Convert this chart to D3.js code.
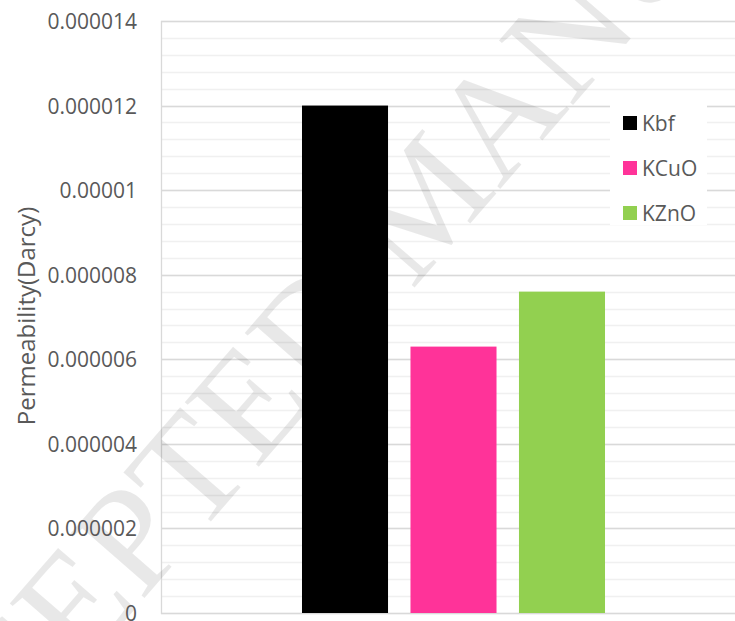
<!DOCTYPE html>
<html>
<head>
<meta charset="utf-8">
<script src="https://cdn.jsdelivr.net/npm/d3@7"></script>
<style>
  html, body { margin: 0; padding: 0; background: #fff; }
  svg { display: block; }
</style>
</head>
<body>
<svg id="chart" width="735" height="621"></svg>
<script>
// ---- data ----
const categories = [""];
const seriesNames = ["Kbf", "KCuO", "KZnO"];
const seriesValues = [0.000012, 0.0000063, 0.0000076];
const seriesColors = ["#000000", "#ff3399", "#92d050"];
const yTickValues = [0, 0.000002, 0.000004, 0.000006, 0.000008, 0.00001, 0.000012, 0.000014];
const yTickLabels = ["0", "0.000002", "0.000004", "0.000006", "0.000008", "0.00001", "0.000012", "0.000014"];
const yAxisTitle = "Permeability(Darcy)";
const watermark = "ACCEPTED MANUSCRIPT";

// ---- layout ----
const W = 735, H = 621;
const plot = { left: 161, right: 746, top: 21, bottom: 613 };
const font = "'Open Sans', sans-serif";
const textColor = "#595959";

const svg = d3.select("#chart");

const y = d3.scaleLinear().domain([0, 0.000014]).range([plot.bottom, plot.top]);
const x0 = d3.scaleBand().domain(categories).range([plot.left, plot.right])
  .paddingInner(0).paddingOuter(0.4653);
const x1 = d3.scaleBand().domain(seriesNames).range([0, x0.bandwidth()])
  .paddingInner(0.207).paddingOuter(0);

// minor gridlines
const minorVals = d3.range(36).map(i => i * 0.000014 / 35);
svg.append("g").selectAll("line").data(minorVals).join("line")
  .attr("x1", plot.left).attr("x2", plot.right)
  .attr("y1", d => Math.round(y(d)) + 0.5).attr("y2", d => Math.round(y(d)) + 0.5)
  .attr("stroke", "#f0f0f0").attr("stroke-width", 1.3);

// major gridlines
svg.append("g").selectAll("line").data(yTickValues).join("line")
  .attr("x1", plot.left).attr("x2", plot.right)
  .attr("y1", d => Math.round(y(d)) + 0.5).attr("y2", d => Math.round(y(d)) + 0.5)
  .attr("stroke", "#d9d9d9").attr("stroke-width", 1.3);

// left axis line
svg.append("line")
  .attr("x1", plot.left + 0.5).attr("x2", plot.left + 0.5)
  .attr("y1", plot.top).attr("y2", plot.bottom + 1)
  .attr("stroke", "#d9d9d9").attr("stroke-width", 1.3);

// watermark
svg.append("text")
  .attr("transform", "translate(425,200) rotate(-49)")
  .attr("text-anchor", "middle")
  .attr("dy", "0.33em")
  .attr("font-family", "'Liberation Serif', serif")
  .attr("font-size", 150)
  .attr("fill", "#000").attr("fill-opacity", 0.09)
  .text(watermark);

// bars
const g = svg.append("g").selectAll("g").data(categories).join("g")
  .attr("transform", d => `translate(${x0(d)},0)`);
g.selectAll("rect").data(seriesNames.map((s, i) => ({ s, v: seriesValues[i], c: seriesColors[i] })))
  .join("rect")
  .attr("x", d => x1(d.s))
  .attr("width", x1.bandwidth())
  .attr("y", d => y(d.v))
  .attr("height", d => y(0) - y(d.v))
  .attr("fill", d => d.c);

// y axis
const yAxis = d3.axisLeft(y)
  .tickValues(yTickValues)
  .tickFormat((d, i) => yTickLabels[i])
  .tickSize(0).tickPadding(24);
const ya = svg.append("g").attr("transform", `translate(${plot.left},0)`).call(yAxis);
ya.select(".domain").remove();
ya.selectAll("text")
  .attr("font-family", font).attr("font-size", 21).attr("fill", textColor)
  .attr("dy", "0.36em");

// axis title
svg.append("text")
  .attr("transform", "translate(26,316) rotate(-90)")
  .attr("text-anchor", "middle").attr("dy", "0.36em")
  .attr("font-family", font).attr("font-size", 24).attr("fill", textColor)
  .text(yAxisTitle);

// legend
const legend = svg.append("g");
legend.append("rect").attr("x", 610).attr("y", 103).attr("width", 97).attr("height", 122).attr("fill", "#fff");
const li = legend.selectAll("g.item").data(seriesNames).join("g").attr("class", "item")
  .attr("transform", (d, i) => `translate(623,${116 + i * 45})`);
li.append("rect").attr("width", 14).attr("height", 14).attr("fill", (d, i) => seriesColors[i]);
li.append("text").attr("x", 19).attr("y", 7).attr("dy", "0.36em")
  .attr("font-family", font).attr("font-size", 21).attr("fill", textColor)
  .text(d => d);
</script>
</body>
</html>
